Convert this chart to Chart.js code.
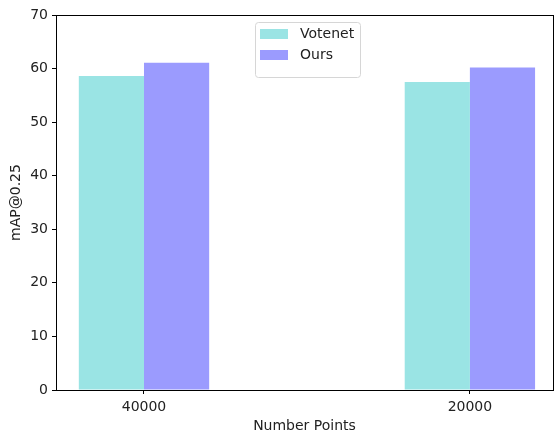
<!DOCTYPE html>
<html>
<head>
<meta charset="utf-8">
<script src="https://cdn.jsdelivr.net/npm/chart.js@4"></script>
<style>
  html, body { margin: 0; padding: 0; background: #fff; }
  #wrap { width: 554px; height: 432px; }
</style>
</head>
<body>
<div id="wrap"><canvas id="mapChart" width="554" height="432"></canvas></div>
<script>
const categories = ['40000', '20000'];
const votenetScores = [58.6, 57.5];
const oursScores = [61.1, 60.2];
const yTicks = [0, 10, 20, 30, 40, 50, 60, 70];

const font = { family: '"DejaVu Sans", sans-serif', size: 14 };

// matplotlib-style legend box inside the plot + top/right spines
const boxPlugin = {
    id: 'boxPlugin',
    afterDraw(chart) {
        const { ctx, chartArea: a } = chart;
        ctx.save();
        ctx.strokeStyle = '#000';
        ctx.lineWidth = 1;
        ctx.strokeRect(Math.round(a.left) + 0.5, Math.round(a.top) + 0.5,
            Math.round(a.right - a.left), Math.round(a.bottom - a.top));

        const ds = chart.data.datasets;
        const x0 = 255, y0 = 22, w = 105, h = 55;
        ctx.fillStyle = 'rgba(255,255,255,0.8)';
        ctx.strokeStyle = '#d6d6d6';
        ctx.beginPath();
        ctx.roundRect(x0 + 0.5, y0 + 0.5, w, h, 3);
        ctx.fill();
        ctx.stroke();
        ctx.font = '14px "DejaVu Sans", sans-serif';
        ctx.textBaseline = 'middle';
        ds.forEach((d, i) => {
            const cy = y0 + 12 + i * 21;
            ctx.fillStyle = d.backgroundColor;
            ctx.fillRect(x0 + 5, cy - 5, 28, 10);
            ctx.fillStyle = '#222';
            ctx.fillText(d.label, x0 + 45, cy);
        });
        ctx.restore();
    }
};

new Chart(document.getElementById('mapChart').getContext('2d'), {
    type: 'bar',
    data: {
        datasets: [
            { label: 'Votenet', data: votenetScores.map((v, i) => ({ x: i, y: v })), backgroundColor: '#9ae4e4' },
            { label: 'Ours', data: oursScores.map((v, i) => ({ x: i, y: v })), backgroundColor: '#9b9bfe' }
        ]
    },
    options: {
        responsive: false,
        animation: false,
        layout: { padding: { top: 15, right: 1, left: 0, bottom: 0 } },
        datasets: { bar: { categoryPercentage: 0.4, barPercentage: 1, grouped: true } },
        scales: {
            x: {
                type: 'linear',
                offset: false,
                min: -0.27,
                max: 1.255,
                afterBuildTicks: (s) => { s.ticks = categories.map((c, i) => ({ value: i })); },
                afterFit: (s) => { s.height = 42; },
                grid: { display: true, offset: false, drawOnChartArea: false, drawTicks: true, tickLength: 4, color: '#000' },
                border: { display: true, color: '#000' },
                ticks: { color: '#222', font, padding: 5, maxRotation: 0, callback: (v) => categories[v] },
                title: { display: true, text: 'Number Points', color: '#222', font, padding: { top: -3, bottom: -3 } }
            },
            y: {
                min: 0,
                max: 70,
                afterBuildTicks: (s) => { s.ticks = yTicks.map(v => ({ value: v })); },
                afterFit: (s) => { s.width = 56; },
                grid: { display: true, drawOnChartArea: false, drawTicks: true, tickLength: 4, color: '#000' },
                border: { display: true, color: '#000' },
                ticks: { color: '#222', font, padding: 4 },
                title: { display: true, text: 'mAP@0.25', color: '#222', font, padding: { top: 8, bottom: 0 } }
            }
        },
        plugins: { legend: { display: false }, tooltip: { enabled: false } }
    },
    plugins: [boxPlugin]
});
</script>
</body>
</html>
